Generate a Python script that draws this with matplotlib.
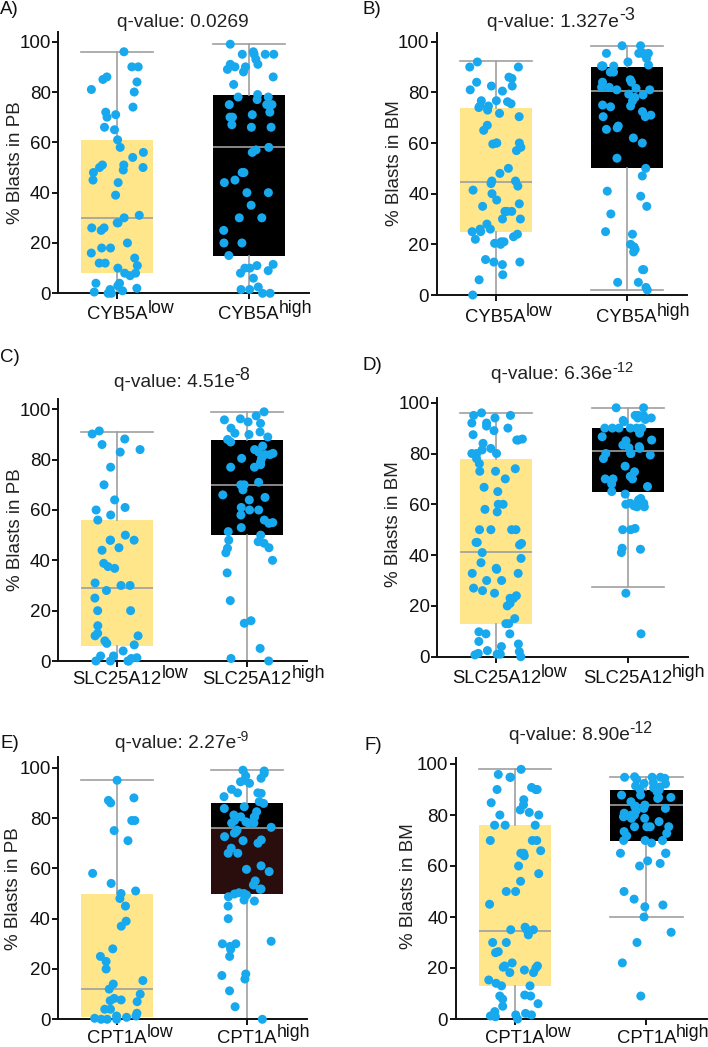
import numpy as np
import matplotlib
matplotlib.use("Agg")
import matplotlib.pyplot as plt
from matplotlib.transforms import offset_copy
from matplotlib.patches import Rectangle

plt.rcParams['font.family'] = ['Liberation Sans', 'DejaVu Sans']

# ---------------- data ----------------
genes = ["CYB5A", "CYB5A", "SLC25A12", "SLC25A12", "CPT1A", "CPT1A"]
tissues = ["PB", "BM", "PB", "BM", "PB", "BM"]
panel_letters = ["A)", "B)", "C)", "D)", "E)", "F)"]
q_base = ["q-value: 0.0269", "q-value: 1.327e", "q-value: 4.51e",
          "q-value: 6.36e", "q-value: 2.27e", "q-value: 8.90e"]
q_exp = ["", "-3", "-8", "-12", "-9", "-12"]
group_sup = ["low", "high"]

A_low = [96, 90, 90, 85, 86, 84, 81, 80, 74, 71, 70, 72, 66, 65, 61, 58, 56, 54, 51, 50,
         51, 50, 49, 48, 45, 44, 39, 31, 30, 28, 28, 26, 26, 25, 20, 18, 18, 16, 14, 12,
         12, 11, 10, 8, 8, 7, 4, 4, 3, 2, 1.5, 1, 0.5, 0, 0]
A_high = [99, 95, 95, 95, 96, 95, 93, 91, 91, 90, 90, 88, 89, 86, 83, 79, 78, 78, 77, 75,
          75, 75, 72, 71, 70, 70, 66, 66, 67, 58, 57, 56, 48, 48, 45, 44, 40, 40, 35, 30,
          30, 25, 20, 20, 15, 11.5, 11, 10, 10, 9, 8, 6, 2.5, 1.5, 1.5, 0, 0]
B_low = [92, 90, 90, 86, 85.5, 84, 82.5, 82.5, 81, 80.5, 75.5, 76.7, 76.3, 76.7, 74.6, 74.6,
         74, 73, 70.4, 71.7, 67, 65, 60, 59.6, 58.3, 60, 60, 57, 50, 48, 45, 45, 44, 43,
         41.4, 40, 37.5, 36, 35, 33, 33, 33, 30, 30, 28, 26, 26, 25, 25, 24, 23, 22, 21,
         20.4, 20, 21, 14, 13, 13, 12, 8, 6, 0]
B_high = [98.4, 98.4, 95.4, 95.4, 95.4, 95.4, 95.4, 93.4, 92, 90.8, 90.4, 90.4, 90.4, 90.4,
          88, 88, 85, 84, 84, 82, 81.6, 82, 81, 81, 79.3, 79, 78, 76.6, 74.3, 74.6, 75,
          72.4, 71, 70.4, 70.4, 66.7, 66, 65.4, 62, 60, 54, 50, 47, 41, 39, 35, 32, 20,
          19, 24, 25, 18, 17, 10, 10, 5, 5, 3, 2]
C_low = [91.4, 90.2, 88.2, 86, 83, 84, 77, 70, 64, 61, 60, 58, 56, 50, 48, 48, 48, 45, 44,
         38.8, 37.5, 36.8, 31, 30, 30, 28, 25, 20, 20, 14, 11, 10, 10, 8, 7, 6.4, 4, 2, 2,
         1.3, 0, 0, 0, 0, 1]
C_high = [99, 97.4, 96.2, 95.8, 95, 94.4, 92.5, 90.5, 90, 91, 89, 88, 87, 85.4, 84, 83,
          82.5, 82, 82, 80.5, 80.5, 77, 77, 78, 79, 71, 70, 70, 68, 66, 65, 64, 61, 60, 60,
          58, 56, 54.7, 53, 51.4, 50, 55, 48, 47.4, 46.8, 45, 44.8, 43, 40, 35, 24, 16, 15,
          5, 1, 0]
D_low = [96, 95, 95, 94, 92, 92, 90.8, 90, 89, 87.4, 85.7, 85.3, 85.3, 84, 82, 81.4, 80,
         80, 80, 78, 76, 74, 73, 73, 70, 66.7, 65, 58, 57, 60, 60, 50, 50, 50, 50, 45, 45,
         44.6, 44, 41, 38.7, 37, 34.4, 34.8, 32.8, 32.8, 30, 30, 27, 26, 25, 24, 23, 23,
         21, 20, 15, 13, 13, 9, 9.8, 9, 6, 5, 4, 2.4, 2, 1.3, 1, 0.7, 0, 1]
D_high = [98, 98, 95, 95, 95, 94, 92.5, 93, 94, 93.4, 90, 90, 90, 90, 90, 90, 88, 86.6,
          85.3, 85, 83.3, 82.7, 82.3, 82, 80, 80, 80, 79.4, 78, 75, 72.8, 71, 70, 70, 70,
          68, 67, 65, 64, 62.3, 61.7, 60.4, 60.4, 60, 59.4, 59, 59, 50.5, 50, 50, 42.7,
          42.3, 41, 25, 9]
E_low = [95, 87, 88, 86, 79, 79, 75, 71, 58, 54, 51, 50, 48, 45, 39, 37, 28, 25, 23, 20,
         14, 15.4, 12, 8.3, 7.4, 7.7, 10, 7, 4, 4, 2.4, 1.3, 0.8, 0.4, 1.3, 0, 0, 0]
E_high = [99, 98.7, 97.7, 96.7, 95.8, 95, 94.4, 93.8, 91.4, 90, 90, 89.8, 88.5, 86.5, 85.8,
          84.5, 83.8, 82.5, 81.2, 80.5, 80.5, 80.3, 79, 78.5, 78, 78, 78, 76.3, 74.6, 75.2,
          74, 72.6, 71, 71.3, 70, 68, 66, 66, 61, 59.6, 58.7, 55, 53.4, 51.8, 51.7, 50.3,
          49.8, 50, 49.4, 48.7, 47.4, 47, 45, 40, 29, 30, 31, 30, 27.8, 25, 18, 17.4, 16,
          11.3, 5, 0]
F_low = [95.9, 97.9, 94.8, 94.8, 90.8, 90, 90, 90, 86, 84.8, 84, 82, 81, 80, 80, 76, 76,
         76, 70, 70, 70, 66, 65, 65, 64, 60, 57, 54, 50, 50, 45, 35, 36, 35, 35, 33, 30, 30,
         26, 26.4, 20.8, 22, 20.8, 20.3, 20, 19.2, 18.2, 18.2, 15.3, 13, 13, 14, 9, 9.4, 9,
         7.8, 6, 5, 2.2, 0.9, 1.6, 2.9, 1.6, 1.2, 0]
F_high = [94.4, 94.8, 95, 94.8, 94.8, 94, 92.7, 92.4, 92.2, 91.4, 91, 90.7, 89.8, 90, 90,
          89.2, 87.8, 87.8, 86.9, 86.5, 85.2, 86.9, 83.3, 83.9, 82.6, 82.6, 83.5, 81.7,
          80.7, 80, 80, 79.6, 79.3, 78.7, 78.7, 77.4, 75.4, 75.4, 75.4, 75.4, 73.5, 71.8,
          72.8, 70, 70, 70, 69, 65, 65, 65, 62, 60, 61, 50, 47, 44.7, 44, 40, 34, 30, 22, 9]

# box statistics: (whisker low, q1, median, q3, whisker high)
A_box = [(0, 8, 30, 61, 96), (0, 15, 58, 79, 99)]
B_box = [(0, 25, 44.7, 74, 92.4), (2, 50.3, 80.5, 90.2, 98.4)]
C_box = [(0, 6, 28.9, 56, 91), (0, 50, 70, 88, 99)]
D_box = [(0, 13, 41.3, 78, 96), (27.3, 65, 81, 90, 98)]
E_box = [(0, 1, 12, 50, 95), (0, 50, 76, 86, 99)]
F_box = [(0, 13, 34.6, 76, 98), (40, 70, 84, 90, 95)]

points = [(A_low, A_high), (B_low, B_high), (C_low, C_high),
          (D_low, D_high), (E_low, E_high), (F_low, F_high)]
boxes = [A_box, B_box, C_box, D_box, E_box, F_box]
yticks = [0, 20, 40, 60, 80, 100]

# ---------------- layout (pixels) ----------------
W, H = 708, 1047
fig = plt.figure(figsize=(W / 100, H / 100), dpi=100)

# left px, right px, y(0) px from top, px per unit, ylim top
layout = [
    (58.3, 309, 293.3, 2.516, 104.0),
    (436.7, 687, 295.0, 2.533, 103.4),
    (58.3, 307, 661.0, 2.517, 104.0),
    (437.3, 688, 656.7, 2.540, 102.0),
    (58.3, 307, 1019.3, 2.516, 104.4),
    (455.7, 707, 1019.0, 2.550, 102.2),
]
title_baseline = [26.7, 27, 386.7, 379, 748.3, 740]
title_sup_size = [13, 13, 13, 10.5, 10, 11.5]
title_sup_raise = [6, 7, 7, 7, 7, 7]
letter_pos = [(0, 10), (362, 10), (0, 357.5), (362, 366), (0, 744), (364, 746)]
xlab_offset = [26, 26.7, 23, 26.6, 24, 24]
ylab_dx = [-43.3, -42.7, -43.3, -43.3, -45, -47.7]

YELLOW = '#FFE68A'
BLACK = '#000000'
BROWN = '#2A0D0D'
BLUE = '#18A8EE'
GRAY = '#A0A0A0'
TXT = '#111111'

XLIM = (-0.45, 1.46)
BOXW = 0.55
rng = np.random.default_rng(7)

titles = []
for i in range(6):
    lpx, rpx, y0, ppu, ytop = layout[i]
    hpx = ppu * ytop
    wpx = rpx - lpx
    ax = fig.add_axes([lpx / W, (H - y0) / H, wpx / W, hpx / H])
    ax.set_xlim(*XLIM)
    ax.set_ylim(0, ytop)

    stats = []
    for (wl, q1, med, q3, wh) in boxes[i]:
        stats.append(dict(whislo=wl, q1=q1, med=med, q3=q3, whishi=wh, fliers=[]))
    bp = ax.bxp(stats, positions=[0, 1], widths=BOXW, capwidths=BOXW,
                patch_artist=True, showfliers=False,
                boxprops=dict(linewidth=0, edgecolor='none'),
                whiskerprops=dict(color=GRAY, linewidth=1.2),
                capprops=dict(color=GRAY, linewidth=1.2),
                medianprops=dict(color=GRAY, linewidth=1.2), zorder=2)
    bp['boxes'][0].set_facecolor(YELLOW)
    bp['boxes'][1].set_facecolor(BLACK)
    for c in bp['caps'] + bp['whiskers'] + bp['medians']:
        c.set_clip_on(False)
    if i == 4:
        wl, q1, med, q3, wh = boxes[i][1]
        ax.add_patch(Rectangle((1 - BOXW / 2, q1), BOXW, med - q1,
                               facecolor=BROWN, edgecolor='none', zorder=2.1))
        bp['medians'][1].set_zorder(2.5)

    for g, vals in enumerate(points[i]):
        vals = np.asarray(vals, dtype=float)
        xs = g + rng.uniform(-0.2, 0.2, size=len(vals))
        ax.scatter(xs, vals, s=42, color=BLUE, edgecolors='none', zorder=3,
                   clip_on=False)

    for side in ('top', 'right'):
        ax.spines[side].set_visible(False)
    for side in ('left', 'bottom'):
        ax.spines[side].set_linewidth(1.4)
        ax.spines[side].set_color('#111111')
    ax.set_yticks(yticks)
    ax.set_yticklabels([str(t) for t in yticks], fontsize=13.5, color=TXT)
    ax.tick_params(axis='y', direction='out', length=4, width=1.3, pad=1.5)
    ax.set_xticks([0, 1])
    ax.set_xticklabels(['', ''])
    ax.tick_params(axis='x', direction='out', length=4, width=1.3)
    ax.set_ylabel('% Blasts in ' + tissues[i], fontsize=13.5, color='#222222',
                  va='center')
    ax.yaxis.set_label_coords(ylab_dx[i] / wpx, 52.0 / ytop)

    # x labels with large superscripts
    trans = offset_copy(ax.get_xaxis_transform(), fig=fig, x=0, y=-xlab_offset[i],
                        units='dots')
    for g in range(2):
        base = ax.text(g, 0, genes[i], transform=trans, ha='center', va='baseline',
                       fontsize=13.3, color=TXT, clip_on=False)
        ax.annotate(group_sup[g], xy=(1, 0), xycoords=base, xytext=(0, 6),
                    textcoords='offset pixels', ha='left', va='bottom',
                    fontsize=12.8, color=TXT, annotation_clip=False)

    # title
    cx, _ = ax.transData.transform((0.5, 0))
    tb = fig.text(cx / W, (H - title_baseline[i]) / H, q_base[i], ha='center',
                  va='baseline', fontsize=13.8, color='#222222')
    ts = None
    if q_exp[i]:
        ts = fig.text(0, 0, q_exp[i], fontsize=title_sup_size[i], color='#222222',
                      ha='left', va='baseline')
    titles.append((tb, ts, cx, i))

    lx, ly = letter_pos[i]
    fig.text(lx / W, (H - ly) / H, panel_letters[i], ha='left', va='center',
             fontsize=13.5, color=TXT)

fig.canvas.draw()
r = fig.canvas.get_renderer()
for tb, ts, cx, i in titles:
    if ts is None:
        continue
    sw = ts.get_window_extent(r).width
    tb.set_x((cx - sw / 2) / W)
for tb, ts, cx, i in titles:
    if ts is None:
        continue
    ex = tb.get_window_extent(r)
    ts.set_x(ex.x1 / W)
    ts.set_y((H - title_baseline[i] + title_sup_raise[i]) / H)

fig.savefig('out.png', dpi=100)
